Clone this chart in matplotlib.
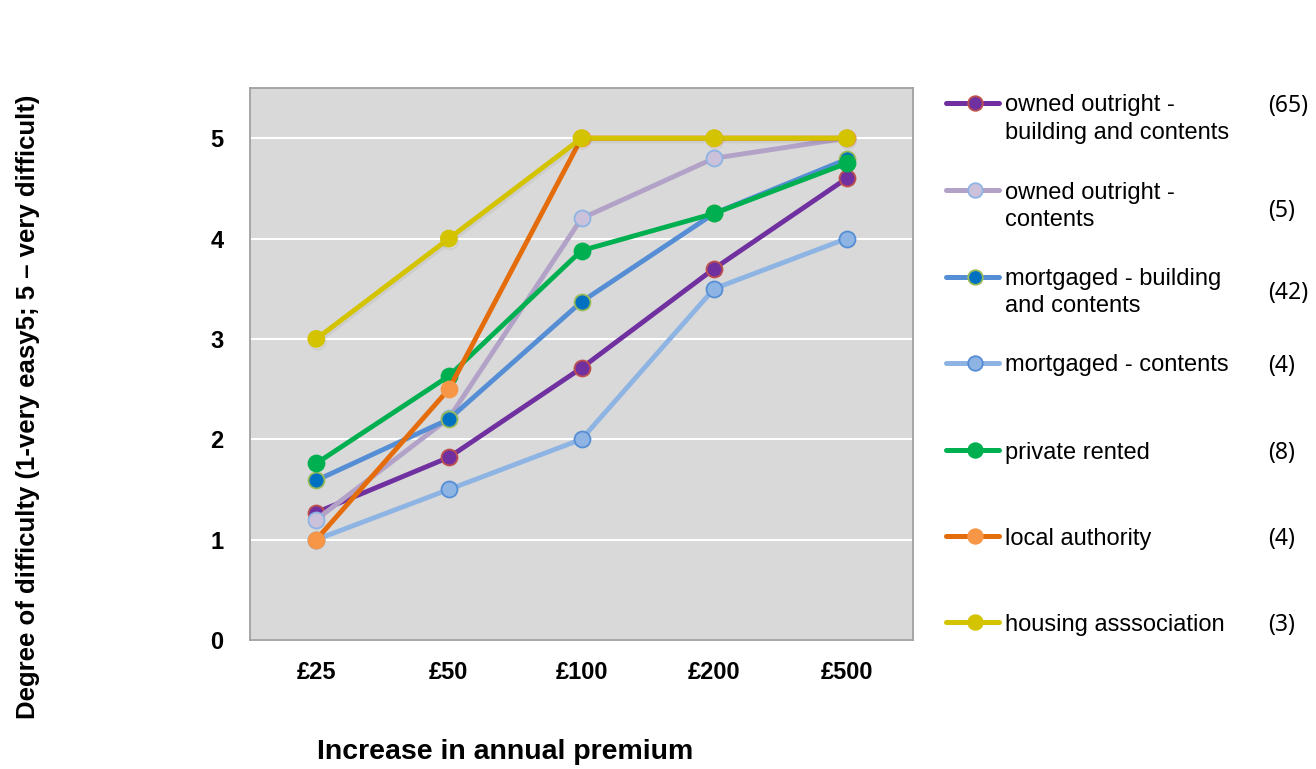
import numpy as np
import matplotlib
matplotlib.use('Agg')
import matplotlib.pyplot as plt
import matplotlib.patheffects as pe
from matplotlib.lines import Line2D

matplotlib.rcParams['font.family'] = ['Liberation Sans', 'DejaVu Sans']

# Data
premiums = ['£25', '£50', '£100', '£200', '£500']
series_names = [['owned outright -', 'building and contents'],
                ['owned outright -', 'contents'],
                ['mortgaged - building', 'and contents'],
                ['mortgaged - contents'],
                ['private rented'],
                ['local authority'],
                ['housing asssociation']]
counts = ['(65)', '(5)', '(42)', '(4)', '(8)', '(4)', '(3)']

owned_bc = [1.27, 1.82, 2.71, 3.70, 4.60]
owned_c = [1.20, 2.21, 4.20, 4.80, 5.00]
mortgaged_bc = [1.59, 2.20, 3.37, 4.25, 4.79]
mortgaged_c = [1.00, 1.50, 2.00, 3.50, 4.00]
private_rented = [1.76, 2.63, 3.88, 4.25, 4.75]
local_authority = [1.00, 2.50, 5.00, 5.00, 5.00]
housing_assoc = [3.00, 4.00, 5.00, 5.00, 5.00]

all_series = [owned_bc, owned_c, mortgaged_bc, mortgaged_c,
              private_rented, local_authority, housing_assoc]

# line colour, marker face, marker edge
styles = [
    ('#7030a0', '#7030a0', '#c0504d'),
    ('#b3a2c7', '#ccc1da', '#8eb4e3'),
    ('#558ed5', '#0070c0', '#9bbb59'),
    ('#8eb4e3', '#8eb4e3', '#558ed5'),
    ('#00b050', '#00b050', '#00b050'),
    ('#e46c0a', '#f79646', '#f79646'),
    ('#d4c300', '#d4c300', '#d4c300'),
]

W, H = 1316, 769
fig = plt.figure(figsize=(W / 100, H / 100), dpi=100)
fig.patch.set_facecolor('white')
ax = fig.add_axes([250/W, 1-640/H, (913-250)/W, (640-88)/H])
ax.set_facecolor('#d9d9d9')

x = np.arange(len(premiums))
for i, (vals, (lc, mfc, mec)) in enumerate(zip(all_series, styles)):
    kw = {}
    if i == 6:
        # faint drop shadow under the housing association line
        kw['path_effects'] = [pe.SimpleLineShadow(offset=(1, -2), alpha=0.05, shadow_color='black'),
                              pe.Normal()]
    ax.plot(x, vals, color=lc, lw=3.5, marker='o', markersize=11.5,
            markerfacecolor=mfc, markeredgecolor=mec, markeredgewidth=1.3,
            zorder=3 + i, **kw)

ax.set_xlim(-0.5, 4.5)
ax.set_ylim(0, 5.5)
ax.set_yticks([0, 1, 2, 3, 4, 5])
ax.set_xticks(x)
ax.set_xticklabels(premiums)
ax.grid(axis='y', color='white', lw=1.5, zorder=1)
ax.set_axisbelow(True)
ax.tick_params(axis='both', length=0, labelsize=17)
ax.tick_params(axis='x', pad=15)
ax.tick_params(axis='y', pad=19)
for lab in ax.get_xticklabels() + ax.get_yticklabels():
    lab.set_fontweight('bold')
for side in ['left', 'bottom', 'right', 'top']:
    ax.spines[side].set_color('#a0a0a0')
    ax.spines[side].set_linewidth(1.3)

fig.text(505/W, 1-752/H, 'Increase in annual premium', ha='center', va='center',
         fontsize=20.5, fontweight='bold')
fig.text(28/W, 1-407/H, 'Degree of difficulty (1-very easy5; 5 \u2013 very difficult)',
         ha='center', va='center', rotation=90, fontsize=18.5, fontweight='bold')

# custom legend on the right
leg_y = [103, 190, 277, 363, 450, 536, 622]
count_y = [103, 208, 290, 363, 450, 536, 622]
for name, cnt, yy, cy, (lc, mfc, mec) in zip(series_names, counts, leg_y, count_y, styles):
    ly = 1 - yy / H
    fig.add_artist(Line2D([946/W, 999/W], [ly, ly], color=lc, lw=3.6,
                          solid_capstyle='round', transform=fig.transFigure))
    fig.add_artist(Line2D([975/W], [ly], color=lc, marker='o', markersize=10.5,
                          markerfacecolor=mfc, markeredgecolor=mec,
                          markeredgewidth=1.3, transform=fig.transFigure))
    for k, line in enumerate(name):
        fig.text(1005/W, 1 - (yy + 27 * k) / H, line, ha='left', va='center_baseline',
                 fontsize=17)
    fig.text(1268/W, 1 - cy / H, cnt, ha='left', va='center_baseline', fontsize=16.5,
             family=['Noto Sans', 'DejaVu Sans'])

plt.savefig('out.png', dpi=100)
